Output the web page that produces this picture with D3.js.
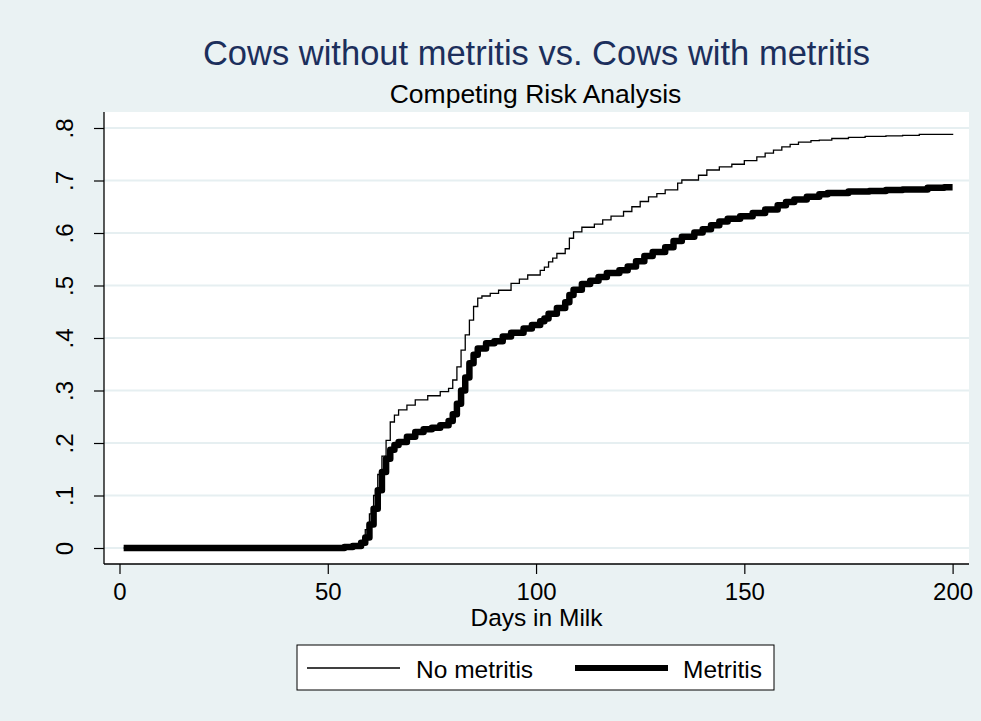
<!DOCTYPE html>
<html>
<head>
<meta charset="utf-8">
<script src="https://cdn.jsdelivr.net/npm/d3@7"></script>
<style>
  html, body { margin: 0; padding: 0; background: #eaf2f3; }
  svg { display: block; font-family: "Liberation Sans", Arial, Helvetica, sans-serif; }
</style>
</head>
<body>
<svg id="chart" width="981" height="721"></svg>
<script>
// Cumulative incidence (competing risk) by days in milk
const titleText = "Cows without metritis vs. Cows with metritis";
const subtitleText = "Competing Risk Analysis";
const xLabelText = "Days in Milk";
const seriesNames = ["No metritis", "Metritis"];

const xTicks = [0, 50, 100, 150, 200];
const yTicks = [0, 0.1, 0.2, 0.3, 0.4, 0.5, 0.6, 0.7, 0.8];
const yTickLabels = ["0", ".1", ".2", ".3", ".4", ".5", ".6", ".7", ".8"];

// No metritis: step points (day, cumulative incidence)
const noMetritisDays = [1, 55, 57, 58, 59, 60, 61, 62, 63, 64, 65, 66, 67, 69, 71, 74, 77, 79,
  80, 81, 82, 83, 84, 85, 86, 87, 89, 91, 94, 96, 98, 101, 102, 103, 104, 105, 107, 108, 109,
  111, 114, 116, 118, 121, 123, 125, 127, 129, 131, 134, 135, 139, 141, 144, 147, 150, 153,
  155, 157, 159, 161, 163, 166, 168, 171, 175, 179, 184, 188, 192, 196, 200];
const noMetritisCIF = [0, 0.002, 0.005, 0.012, 0.035, 0.065, 0.1, 0.14, 0.175, 0.205, 0.24,
  0.253, 0.263, 0.272, 0.282, 0.29, 0.298, 0.304, 0.32, 0.345, 0.377, 0.406, 0.434, 0.46,
  0.476, 0.48, 0.485, 0.491, 0.504, 0.512, 0.52, 0.529, 0.535, 0.545, 0.552, 0.561, 0.57,
  0.59, 0.602, 0.611, 0.617, 0.625, 0.632, 0.641, 0.65, 0.66, 0.669, 0.675, 0.682, 0.695,
  0.701, 0.71, 0.72, 0.726, 0.731, 0.738, 0.745, 0.752, 0.758, 0.764, 0.769, 0.773, 0.776,
  0.777, 0.78, 0.782, 0.784, 0.785, 0.786, 0.788, 0.788, 0.789];

// Metritis: step points (day, cumulative incidence)
const metritisDays = [1, 54, 56, 58, 59, 60, 61, 62, 63, 64, 65, 66, 67, 69, 71, 73, 75, 77,
  79, 80, 81, 82, 83, 84, 85, 86, 88, 90, 92, 94, 97, 99, 101, 102, 103, 105, 107, 108, 109,
  111, 113, 115, 117, 120, 122, 124, 126, 128, 131, 133, 135, 138, 140, 142, 144, 146, 149,
  152, 155, 158, 160, 162, 165, 168, 170, 175, 180, 184, 188, 194, 198, 200];
const metritisCIF = [0, 0.002, 0.004, 0.01, 0.02, 0.045, 0.075, 0.11, 0.145, 0.17, 0.187,
  0.196, 0.202, 0.212, 0.221, 0.226, 0.229, 0.234, 0.242, 0.255, 0.275, 0.3, 0.325, 0.352,
  0.368, 0.38, 0.39, 0.394, 0.403, 0.41, 0.418, 0.425, 0.432, 0.437, 0.446, 0.457, 0.468,
  0.482, 0.492, 0.503, 0.509, 0.516, 0.524, 0.529, 0.536, 0.546, 0.556, 0.564, 0.573, 0.585,
  0.593, 0.601, 0.607, 0.615, 0.622, 0.627, 0.632, 0.638, 0.645, 0.653, 0.659, 0.664, 0.669,
  0.674, 0.676, 0.679, 0.68, 0.682, 0.683, 0.686, 0.687, 0.687];

const svg = d3.select("#chart");
const W = 981, H = 721;
const box = { left: 104, right: 969, top: 112, bottom: 564 };

svg.append("rect").attr("width", W).attr("height", H).attr("fill", "#eaf2f3");

const x = d3.scaleLinear().domain([0, 200]).range([119.5, 952.6]);
const y = d3.scaleLinear().domain([0, 0.8]).range([548, 128]);

// plot region
svg.append("rect")
  .attr("x", box.left).attr("y", box.top)
  .attr("width", box.right - box.left).attr("height", box.bottom - box.top)
  .attr("fill", "#ffffff");

// horizontal grid
svg.append("g").selectAll("line").data(yTicks).join("line")
  .attr("x1", box.left).attr("x2", box.right)
  .attr("y1", d => y(d)).attr("y2", d => y(d))
  .attr("stroke", "#e6eff1").attr("stroke-width", 2);

// curves
const line = d3.line().x(d => x(d[0])).y(d => y(d[1])).curve(d3.curveStepAfter);
const noMet = noMetritisDays.map((d, i) => [d, noMetritisCIF[i]]);
const met = metritisDays.map((d, i) => [d, metritisCIF[i]]);

svg.append("path").datum(noMet).attr("d", line)
  .attr("fill", "none").attr("stroke", "#000").attr("stroke-width", 1.3)
  .attr("stroke-linejoin", "miter");
svg.append("path").datum(met).attr("d", line)
  .attr("fill", "none").attr("stroke", "#000").attr("stroke-width", 6.5)
  .attr("stroke-linejoin", "round");

// axes
const fontSize = 24;
const xAxis = svg.append("g").attr("transform", `translate(0,${box.bottom})`)
  .call(d3.axisBottom(x).tickValues(xTicks).tickSize(10).tickFormat(d3.format("d")));
xAxis.select(".domain").remove();
xAxis.selectAll(".tick line").attr("stroke", "#000").attr("stroke-width", 1.2);
xAxis.selectAll(".tick text").attr("dy", null).attr("y", 36)
  .attr("font-size", fontSize).attr("fill", "#000").attr("font-family", null);

const yAxis = svg.append("g").attr("transform", `translate(${box.left},0)`)
  .call(d3.axisLeft(y).tickValues(yTicks).tickSize(10).tickFormat((d, i) => yTickLabels[i]));
yAxis.select(".domain").remove();
yAxis.selectAll(".tick line").attr("stroke", "#000").attr("stroke-width", 1.2);
yAxis.selectAll(".tick text")
  .attr("x", null).attr("dy", null)
  .attr("transform", "translate(-31,0) rotate(-90)")
  .attr("text-anchor", "middle")
  .attr("font-size", fontSize).attr("fill", "#000").attr("font-family", null);

// axis lines
svg.append("line").attr("x1", box.left).attr("x2", box.right)
  .attr("y1", box.bottom).attr("y2", box.bottom)
  .attr("stroke", "#000").attr("stroke-width", 1.3);
svg.append("line").attr("x1", box.left).attr("x2", box.left)
  .attr("y1", box.top).attr("y2", box.bottom)
  .attr("stroke", "#000").attr("stroke-width", 1.3);

// titles
svg.append("text").attr("x", 536.5).attr("y", 65).attr("text-anchor", "middle")
  .attr("font-size", 34.5).attr("fill", "#1c2f5c").text(titleText);
svg.append("text").attr("x", 535.5).attr("y", 103).attr("text-anchor", "middle")
  .attr("font-size", 26.5).attr("fill", "#000").text(subtitleText);
svg.append("text").attr("x", 536.5).attr("y", 626).attr("text-anchor", "middle")
  .attr("font-size", 24.5).attr("fill", "#000").text(xLabelText);

// legend
const lg = svg.append("g");
lg.append("rect").attr("x", 297).attr("y", 645).attr("width", 477).attr("height", 45)
  .attr("fill", "#fff").attr("stroke", "#000").attr("stroke-width", 1);
const legendItems = [
  { name: seriesNames[0], x0: 307, x1: 400, tx: 416, w: 1.3 },
  { name: seriesNames[1], x0: 575, x1: 668, tx: 683, w: 6 }
];
legendItems.forEach(it => {
  lg.append("line").attr("x1", it.x0).attr("x2", it.x1).attr("y1", 668).attr("y2", 668)
    .attr("stroke", "#000").attr("stroke-width", it.w);
  lg.append("text").attr("x", it.tx).attr("y", 678)
    .attr("font-size", 24.5).attr("fill", "#000").text(it.name);
});
</script>
</body>
</html>
